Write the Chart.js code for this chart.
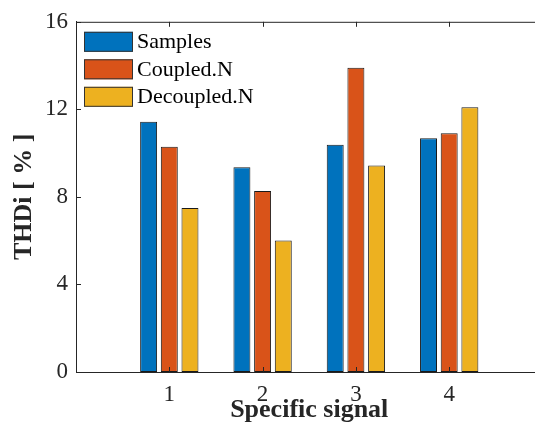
<!DOCTYPE html>
<html>
<head>
<meta charset="utf-8">
<script src="https://cdn.jsdelivr.net/npm/chart.js@4"></script>
<style>
html, body { margin: 0; padding: 0; overflow: hidden; background: #fff; }
#wrap { width: 560px; height: 428px; }
</style>
</head>
<body>
<div id="wrap"><canvas id="myChart" width="560" height="428"></canvas></div>
<script>
const categories = [1, 2, 3, 4];
const seriesNames = ['Samples', 'Coupled.N', 'Decoupled.N'];
const samples = [11.43, 9.36, 10.38, 10.68];
const coupled = [10.29, 8.27, 13.9, 10.91];
const decoupled = [7.49, 6.01, 9.43, 12.1];
const yTicks = [0, 4, 8, 12, 16];

const colors = ['#0072BD', '#D95319', '#EDB120'];
const serif = '"Liberation Serif", "Times New Roman", serif';
const axisColor = '#262626';

function points(values) {
    return values.map((v, i) => ({ x: categories[i], y: v }));
}

// matlab style: box on top, ticks pointing inward, legend inside the axes
const matlabAxes = {
    id: 'matlabAxes',
    afterDraw(chart) {
        const { ctx, chartArea } = chart;
        const xs = chart.scales.x, ys = chart.scales.y;
        ctx.save();
        ctx.strokeStyle = axisColor;
        ctx.lineWidth = 1;
        ctx.beginPath();
        ctx.moveTo(chartArea.left, chartArea.top + 0.5);
        ctx.lineTo(chartArea.right, chartArea.top + 0.5);
        for (const c of categories) {
            const px = Math.round(xs.getPixelForValue(c)) + 0.5;
            ctx.moveTo(px, chartArea.bottom);
            ctx.lineTo(px, chartArea.bottom - 5);
            ctx.moveTo(px, chartArea.top);
            ctx.lineTo(px, chartArea.top + 5);
        }
        for (const t of yTicks) {
            const py = Math.round(ys.getPixelForValue(t)) + 0.5;
            ctx.moveTo(chartArea.left, py);
            ctx.lineTo(chartArea.left + 5, py);
        }
        ctx.stroke();

        // legend
        ctx.font = '22px ' + serif;
        ctx.textBaseline = 'middle';
        ctx.textAlign = 'left';
        chart.data.datasets.forEach((ds, i) => {
            const bx = chartArea.left + 8, by = chartArea.top + 10 + i * 27.5;
            ctx.fillStyle = ds.backgroundColor;
            ctx.fillRect(bx, by, 49, 20);
            ctx.strokeStyle = '#333';
            ctx.strokeRect(bx + 0.5, by + 0.5, 48, 19);
            ctx.fillStyle = '#000';
            ctx.fillText(ds.label, bx + 53, by + 10.5);
        });
        ctx.restore();
    }
};

const ctx = document.getElementById('myChart');

new Chart(ctx, {
    type: 'bar',
    data: {
        datasets: [
            { label: seriesNames[0], data: points(samples), backgroundColor: colors[0] },
            { label: seriesNames[1], data: points(coupled), backgroundColor: colors[1] },
            { label: seriesNames[2], data: points(decoupled), backgroundColor: colors[2] }
        ]
    },
    options: {
        responsive: false,
        animation: false,
        devicePixelRatio: 1,
        layout: { padding: { left: 0, top: 18, right: 17.5, bottom: 0 } },
        datasets: {
            bar: {
                categoryPercentage: 0.665,
                barPercentage: 0.82,
                borderWidth: 1,
                borderColor: '#1a1a1a',
                borderSkipped: false
            }
        },
        plugins: {
            legend: { display: false },
            tooltip: { enabled: false }
        },
        scales: {
            x: {
                type: 'linear',
                offset: false,
                min: 0,
                max: 5,
                afterBuildTicks: s => { s.ticks = categories.map(v => ({ value: v })); },
                afterFit: s => { s.height = 56; },
                grid: { display: false, drawTicks: false, offset: false },
                border: { display: true, color: axisColor, width: 1 },
                ticks: {
                    padding: 9,
                    color: axisColor,
                    font: { family: serif, size: 23 }
                },
                title: {
                    display: true,
                    text: 'Specific signal',
                    color: axisColor,
                    padding: { top: 0, bottom: 5 },
                    font: { family: serif, size: 26, weight: 'bold', lineHeight: 1 }
                }
            },
            y: {
                min: 0,
                max: 16,
                afterBuildTicks: s => { s.ticks = yTicks.map(v => ({ value: v })); },
                afterFit: s => { s.width = 76; },
                grid: { display: false, drawTicks: false },
                border: { display: true, color: axisColor, width: 1 },
                ticks: {
                    padding: 8,
                    color: axisColor,
                    font: { family: serif, size: 23 }
                },
                title: {
                    display: true,
                    text: 'THDi [ % ]',
                    color: axisColor,
                    padding: { top: 11, bottom: 0 },
                    font: { family: serif, size: 26, weight: 'bold', lineHeight: 1 }
                }
            }
        }
    },
    plugins: [matlabAxes]
});
</script>
</body>
</html>
